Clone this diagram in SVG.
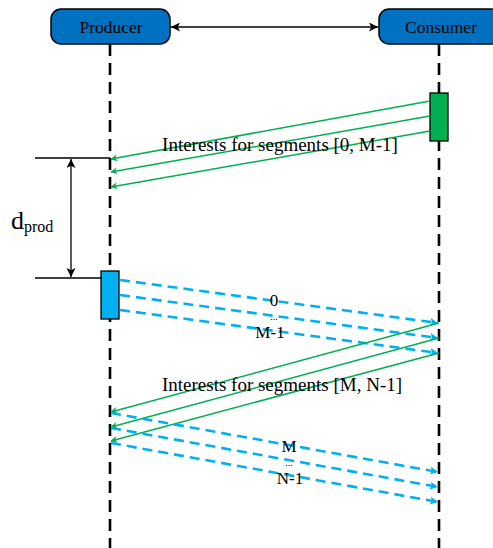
<svg xmlns="http://www.w3.org/2000/svg" width="493" height="548" viewBox="0 0 493 548">
  <style>
    .node { fill: #0070C0; stroke: #000; stroke-width: 1.5; }
    .life { stroke: #000; stroke-width: 2.6; stroke-dasharray: 12 7; fill: none; }
    .interest { stroke: #00B050; stroke-width: 1.5; fill: none; marker-end: url(#greenHead); }
    .data { stroke: #00B0F0; stroke-width: 2.6; stroke-dasharray: 10 6; fill: none; marker-end: url(#blueHead); }
    .thin { stroke: #000; stroke-width: 1.3; fill: none; }
  </style>
  <defs>
    <marker id="greenHead" viewBox="0 0 10 10" refX="9" refY="5" markerWidth="7" markerHeight="7" markerUnits="userSpaceOnUse" orient="auto">
      <path d="M0,0 L10,5 L0,10 L3,5 Z" fill="#00B050"/>
    </marker>
    <marker id="blueHead" viewBox="0 0 10 10" refX="10" refY="5" markerWidth="10" markerHeight="8" markerUnits="userSpaceOnUse" orient="auto">
      <path d="M0,0 L10,5 L0,10 L2.5,5 Z" fill="#00B0F0"/>
    </marker>
    <marker id="blackHead" viewBox="0 0 10 10" refX="10" refY="5" markerWidth="11" markerHeight="9" markerUnits="userSpaceOnUse" orient="auto-start-reverse">
      <path d="M0,0 L10,5 L0,10 L2.5,5 Z" fill="#000"/>
    </marker>
  </defs>

  <rect width="493" height="548" fill="#fff"/>

  <!-- lifelines -->
  <g id="lifelines">
    <line class="life" x1="110" y1="44" x2="110" y2="548"/>
    <line class="life" x1="439" y1="44" x2="439" y2="548"/>
  </g>

  <g font-family="Liberation Serif, Times New Roman, serif" fill="#000">
    <!-- participants -->
    <g id="producer">
      <rect class="node" x="51" y="9" width="119" height="35" rx="10" ry="10"/>
      <text x="111" y="33" font-size="17.5" text-anchor="middle">Producer</text>
    </g>
    <g id="consumer">
      <rect class="node" x="379" y="9" width="122" height="35" rx="10" ry="10"/>
      <text x="441" y="33" font-size="17.5" text-anchor="middle">Consumer</text>
    </g>
  </g>

  <!-- activation bars -->
  <g id="consumer-activation">
    <rect x="430" y="93" width="18" height="48" fill="#00B050" stroke="#000" stroke-width="1.3"/>
  </g>
  <g id="producer-activation">
    <rect x="101" y="271" width="18" height="48" fill="#00B0F0" stroke="#000" stroke-width="1.3"/>
  </g>

  <!-- connectors -->
  <g id="connectors">
    <line class="thin" x1="171" y1="27" x2="378" y2="27" marker-start="url(#blackHead)" marker-end="url(#blackHead)"/>

    <!-- first interest batch -->
    <line class="interest" x1="430" y1="101" x2="111" y2="159"/>
    <line class="interest" x1="430" y1="116" x2="111" y2="172"/>
    <line class="interest" x1="430" y1="131" x2="111" y2="187"/>

    <!-- first data batch -->
    <line class="data" x1="120" y1="280" x2="438" y2="323"/>
    <line class="data" x1="120" y1="295" x2="438" y2="338"/>
    <line class="data" x1="120" y1="310" x2="438" y2="353"/>

    <!-- second interest batch -->
    <line class="interest" x1="439" y1="323" x2="111" y2="412"/>
    <line class="interest" x1="439" y1="338" x2="111" y2="427"/>
    <line class="interest" x1="439" y1="353" x2="111" y2="441"/>

    <!-- second data batch -->
    <line class="data" x1="111" y1="413" x2="438" y2="472"/>
    <line class="data" x1="111" y1="428" x2="438" y2="487"/>
    <line class="data" x1="111" y1="443" x2="438" y2="502"/>

    <!-- production delay dimension -->
    <line class="thin" x1="35" y1="158" x2="110" y2="158"/>
    <line class="thin" x1="35" y1="278" x2="102" y2="278"/>
    <line class="thin" x1="71" y1="159" x2="71" y2="277" marker-start="url(#blackHead)" marker-end="url(#blackHead)"/>
  </g>

  <!-- labels -->
  <g id="labels" font-family="Liberation Serif, Times New Roman, serif" fill="#000">
    <text x="280" y="151" font-size="19" text-anchor="middle">Interests for segments [0, M-1]</text>
    <text x="282" y="391" font-size="19" text-anchor="middle">Interests for segments [M, N-1]</text>
    <text x="274" y="306" font-size="17" text-anchor="middle">0</text>
    <text x="274" y="320" font-size="10" text-anchor="middle">...</text>
    <text x="270" y="338" font-size="17" text-anchor="middle">M-1</text>
    <text x="289" y="452" font-size="17" text-anchor="middle">M</text>
    <text x="289" y="466" font-size="10" text-anchor="middle">...</text>
    <text x="290" y="484" font-size="17" text-anchor="middle">N-1</text>
    <text x="11" y="229" font-size="26">d<tspan font-size="16" dy="3">prod</tspan></text>
  </g>
</svg>
